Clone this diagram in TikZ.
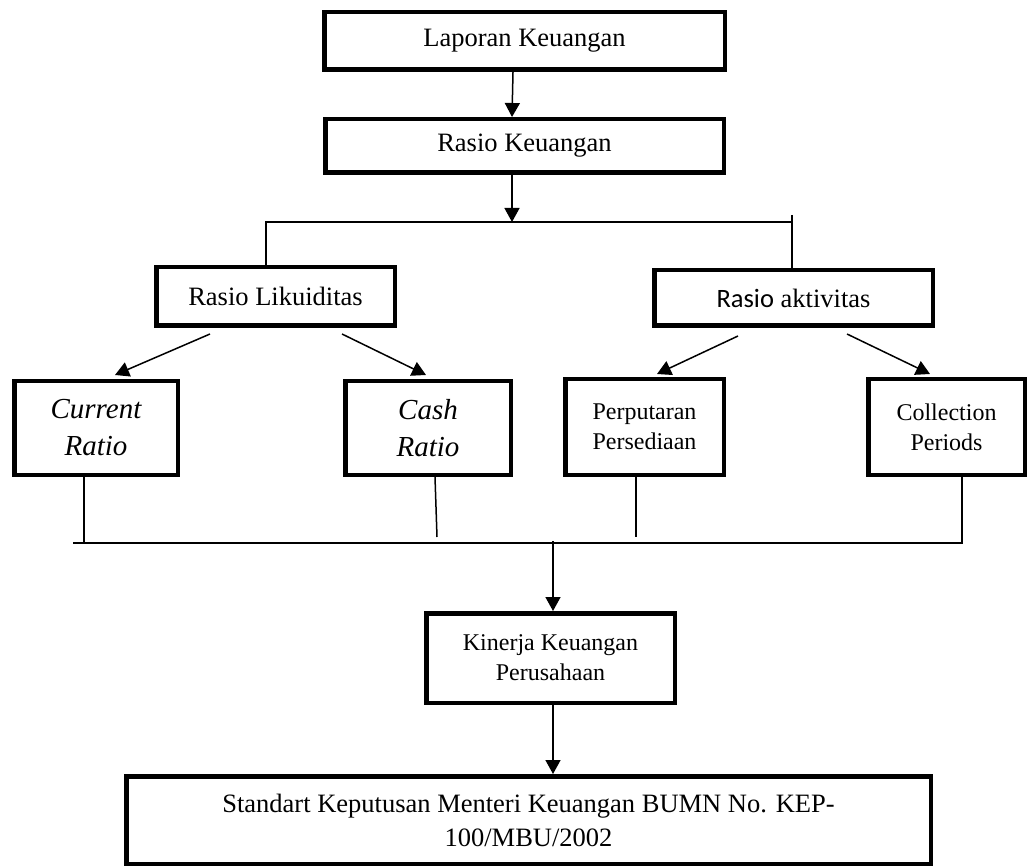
\documentclass[tikz,border=0pt]{standalone}
\usepackage{fontspec}
\setmainfont{Liberation Serif}
\newfontfamily\calibrifont{Carlito}
\usetikzlibrary{
    arrows.meta
}

\begin{document}
\begin{tikzpicture}[
    x=1pt, y=-1pt,
    box/.style={
        draw,
        line width=4.5pt,
        inner sep=0pt,
        align=center,
        font=\fontsize{26.5}{32}\selectfont
    },
    ratiobox/.style={box, font=\fontsize{29}{37}\selectfont\itshape},
    smallbox/.style={box, font=\fontsize{24}{30}\selectfont},
    link/.style={draw, line width=1.5pt},
    flow/.style={
        link,
        -{Triangle[length=14pt, width=15pt]}
    }
]
\useasboundingbox (0,0) rectangle (1028,866);

\node[box, minimum width=400.5pt, minimum height=57.5pt] (lapkeu) at (524.5,41) {Laporan Keuangan};
\node[box, minimum width=398.5pt, minimum height=53.5pt] (raskeu) at (524.5,146) {Rasio Keuangan};

\node[box, minimum width=238.5pt, minimum height=58.5pt] (likuid) at (275.5,296.5) {Rasio Likuiditas};
\node[box, minimum width=278.5pt, minimum height=55.5pt] (aktiv) at (793.5,298) {{\calibrifont Rasio} aktivitas};

\node[ratiobox, minimum width=163.5pt, minimum height=93.5pt] (current) at (96,428) {Current\\Ratio};
\node[ratiobox, minimum width=165.5pt, minimum height=93.5pt] (cash) at (428,428) {Cash\\Ratio};
\node[smallbox, minimum width=158.5pt, minimum height=95.5pt] (putar) at (644.5,427) {Perputaran\\Persediaan};
\node[smallbox, minimum width=156.5pt, minimum height=95.5pt] (collect) at (946.5,427) {Collection\\Periods};

\node[smallbox, minimum width=248.5pt, minimum height=89.5pt] (kinerja) at (550.5,658) {Kinerja Keuangan\\Perusahaan};
\node[box, minimum width=804.5pt, minimum height=87.5pt, font=\fontsize{26.5}{34}\selectfont] (standar) at (528.5,820)
    {Standart Keputusan Menteri Keuangan BUMN No. KEP-\\100/MBU/2002};

% top part
\coordinate (jtop) at (512,222);
\coordinate (barl) at (266,222);
\coordinate (barr) at (792,222);
\coordinate (barrt) at (792,215);

\draw[flow] ([xshift=-11.5pt]lapkeu.south) -- ([xshift=-12.5pt]raskeu.north);
\draw[flow] ([xshift=-12.5pt]raskeu.south) -- (jtop);
\draw[link] (likuid.north -| barl) -- (barl) -- (barr);
\draw[link] (barrt) -- (aktiv.north -| barrt);

\draw[flow] ([shift={(-65.5,6)}]likuid.south) -- ([shift={(19,-4)}]current.north);
\draw[flow] ([shift={(66.5,6)}]likuid.south) -- ([shift={(-2,-4)}]cash.north);
\draw[flow] ([shift={(-55.5,8)}]aktiv.south) -- ([shift={(12.5,-3)}]putar.north);
\draw[flow] ([shift={(53.5,6)}]aktiv.south) -- ([shift={(-16.5,-3)}]collect.north);

% bottom part
\coordinate (botl) at (73,543);
\coordinate (botr) at (963,543);
\coordinate (jbot) at (553,541);

\draw[link] (botl) -- (botr);
\draw[link] ([xshift=-12pt]current.south) -- ([xshift=-12pt]current.south |- botl);
\draw[link] ([xshift=7pt]cash.south) -- ([xshift=9pt,yshift=-60pt]cash.south);
\draw[link] ([xshift=-8.5pt]putar.south) -- ([xshift=-8.5pt,yshift=-60pt]putar.south);
\draw[link] ([xshift=15.5pt]collect.south) -- ([xshift=15.5pt]collect.south |- botr);

\draw[flow] (jbot) -- (kinerja.north -| jbot);
\draw[flow] (kinerja.south -| jbot) -- (standar.north -| jbot);

\end{tikzpicture}
\end{document}
